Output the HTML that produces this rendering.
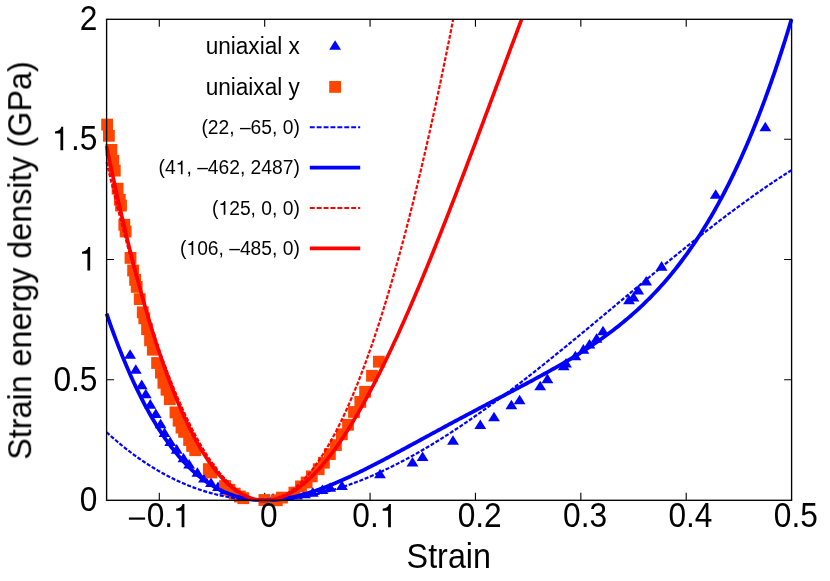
<!DOCTYPE html>
<html><head><meta charset="utf-8"><title>Strain energy density</title>
<style>html,body{margin:0;padding:0;background:#fff}body{width:830px;height:581px;overflow:hidden;font-family:"Liberation Sans",sans-serif}svg{display:block}</style>
</head><body>
<svg width="830" height="581" viewBox="0 0 830 581">
<rect width="830" height="581" fill="#fff"/>
<path d="M159.29 500.30V492.80M159.29 19.30V26.80M264.68 500.30V492.80M264.68 19.30V26.80M370.06 500.30V492.80M370.06 19.30V26.80M475.45 500.30V492.80M475.45 19.30V26.80M580.83 500.30V492.80M580.83 19.30V26.80M686.22 500.30V492.80M686.22 19.30V26.80M106.60 379.75H114.10M791.60 379.75H784.10M106.60 259.50H114.10M791.60 259.50H784.10M106.60 139.25H114.10M791.60 139.25H784.10" stroke="#000" stroke-width="1.1" fill="none"/>
<g fill="#0000ff"><path d="M130.10 349.20L124.20 358.75L136.00 358.75Z"/><path d="M135.80 364.20L129.90 373.75L141.70 373.75Z"/><path d="M141.70 379.60L135.80 389.15L147.60 389.15Z"/><path d="M145.80 388.70L139.90 398.25L151.70 398.25Z"/><path d="M150.30 399.10L144.40 408.65L156.20 408.65Z"/><path d="M155.80 408.50L149.90 418.05L161.70 418.05Z"/><path d="M160.60 418.80L154.70 428.35L166.50 428.35Z"/><path d="M164.50 427.50L158.60 437.05L170.40 437.05Z"/><path d="M170.20 436.40L164.30 445.95L176.10 445.95Z"/><path d="M176.70 444.10L170.80 453.65L182.60 453.65Z"/><path d="M183.50 452.80L177.60 462.35L189.40 462.35Z"/><path d="M189.10 459.00L183.20 468.55L195.00 468.55Z"/><path d="M197.40 467.30L191.50 476.85L203.30 476.85Z"/><path d="M204.00 472.90L198.10 482.45L209.90 482.45Z"/><path d="M211.00 477.40L205.10 486.95L216.90 486.95Z"/><path d="M218.00 481.40L212.10 490.95L223.90 490.95Z"/><path d="M225.00 484.90L219.10 494.45L230.90 494.45Z"/><path d="M232.00 487.40L226.10 496.95L237.90 496.95Z"/><path d="M240.00 489.90L234.10 499.45L245.90 499.45Z"/><path d="M264.70 493.40L258.80 502.95L270.60 502.95Z"/><path d="M273.00 492.90L267.10 502.45L278.90 502.45Z"/><path d="M281.00 492.20L275.10 501.75L286.90 501.75Z"/><path d="M289.00 491.20L283.10 500.75L294.90 500.75Z"/><path d="M297.00 489.90L291.10 499.45L302.90 499.45Z"/><path d="M305.00 488.60L299.10 498.15L310.90 498.15Z"/><path d="M312.80 487.10L306.90 496.65L318.70 496.65Z"/><path d="M322.40 484.40L316.50 493.95L328.30 493.95Z"/><path d="M330.20 482.30L324.30 491.85L336.10 491.85Z"/><path d="M342.00 480.40L336.10 489.95L347.90 489.95Z"/><path d="M380.00 468.80L374.10 478.35L385.90 478.35Z"/><path d="M412.50 456.90L406.60 466.45L418.40 466.45Z"/><path d="M422.60 451.50L416.70 461.05L428.50 461.05Z"/><path d="M453.00 435.30L447.10 444.85L458.90 444.85Z"/><path d="M480.30 419.40L474.40 428.95L486.20 428.95Z"/><path d="M494.00 411.80L488.10 421.35L499.90 421.35Z"/><path d="M511.40 399.70L505.50 409.25L517.30 409.25Z"/><path d="M519.60 394.80L513.70 404.35L525.50 404.35Z"/><path d="M540.20 380.80L534.30 390.35L546.10 390.35Z"/><path d="M547.40 373.60L541.50 383.15L553.30 383.15Z"/><path d="M563.70 360.60L557.80 370.15L569.60 370.15Z"/><path d="M566.00 358.00L560.10 367.55L571.90 367.55Z"/><path d="M575.40 350.80L569.50 360.35L581.30 360.35Z"/><path d="M583.40 344.10L577.50 353.65L589.30 353.65Z"/><path d="M589.50 338.90L583.60 348.45L595.40 348.45Z"/><path d="M596.60 333.20L590.70 342.75L602.50 342.75Z"/><path d="M603.00 325.70L597.10 335.25L608.90 335.25Z"/><path d="M629.00 294.80L623.10 304.35L634.90 304.35Z"/><path d="M633.50 292.00L627.60 301.55L639.40 301.55Z"/><path d="M638.20 285.00L632.30 294.55L644.10 294.55Z"/><path d="M646.20 275.90L640.30 285.45L652.10 285.45Z"/><path d="M661.60 261.10L655.70 270.65L667.50 270.65Z"/><path d="M715.70 189.30L709.80 198.85L721.60 198.85Z"/><path d="M765.30 121.80L759.40 131.35L771.20 131.35Z"/></g>
<g fill="#ff4500"><rect x="101.20" y="118.70" width="11.8" height="11.8"/><rect x="103.00" y="129.90" width="11.8" height="11.8"/><rect x="105.50" y="144.00" width="11.8" height="11.8"/><rect x="107.40" y="154.90" width="11.8" height="11.8"/><rect x="108.90" y="164.70" width="11.8" height="11.8"/><rect x="111.70" y="182.80" width="11.8" height="11.8"/><rect x="113.90" y="193.90" width="11.8" height="11.8"/><rect x="115.10" y="199.70" width="11.8" height="11.8"/><rect x="118.40" y="218.90" width="11.8" height="11.8"/><rect x="119.70" y="225.60" width="11.8" height="11.8"/><rect x="124.60" y="252.00" width="11.8" height="11.8"/><rect x="127.20" y="264.60" width="11.8" height="11.8"/><rect x="129.20" y="273.90" width="11.8" height="11.8"/><rect x="130.80" y="281.00" width="11.8" height="11.8"/><rect x="133.85" y="293.25" width="11.8" height="11.8"/><rect x="136.85" y="306.40" width="11.8" height="11.8"/><rect x="138.40" y="312.40" width="11.8" height="11.8"/><rect x="141.15" y="323.20" width="11.8" height="11.8"/><rect x="144.15" y="334.40" width="11.8" height="11.8"/><rect x="146.90" y="343.80" width="11.8" height="11.8"/><rect x="151.20" y="357.10" width="11.8" height="11.8"/><rect x="155.00" y="366.70" width="11.8" height="11.8"/><rect x="157.50" y="376.90" width="11.8" height="11.8"/><rect x="160.60" y="383.80" width="11.8" height="11.8"/><rect x="163.90" y="393.30" width="11.8" height="11.8"/><rect x="169.60" y="406.50" width="11.8" height="11.8"/><rect x="172.70" y="414.80" width="11.8" height="11.8"/><rect x="175.60" y="421.70" width="11.8" height="11.8"/><rect x="178.20" y="426.00" width="11.8" height="11.8"/><rect x="183.20" y="434.10" width="11.8" height="11.8"/><rect x="186.20" y="440.00" width="11.8" height="11.8"/><rect x="189.30" y="444.30" width="11.8" height="11.8"/><rect x="202.90" y="463.20" width="11.8" height="11.8"/><rect x="205.50" y="466.60" width="11.8" height="11.8"/><rect x="219.10" y="480.10" width="11.8" height="11.8"/><rect x="223.60" y="483.90" width="11.8" height="11.8"/><rect x="228.80" y="487.70" width="11.8" height="11.8"/><rect x="234.00" y="490.60" width="11.8" height="11.8"/><rect x="237.40" y="492.30" width="11.8" height="11.8"/><rect x="258.50" y="494.10" width="11.8" height="11.8"/><rect x="270.90" y="494.40" width="11.8" height="11.8"/><rect x="276.10" y="491.70" width="11.8" height="11.8"/><rect x="288.50" y="486.70" width="11.8" height="11.8"/><rect x="295.10" y="480.50" width="11.8" height="11.8"/><rect x="300.70" y="476.60" width="11.8" height="11.8"/><rect x="305.90" y="470.50" width="11.8" height="11.8"/><rect x="312.80" y="463.30" width="11.8" height="11.8"/><rect x="318.00" y="456.80" width="11.8" height="11.8"/><rect x="324.00" y="448.20" width="11.8" height="11.8"/><rect x="330.00" y="439.20" width="11.8" height="11.8"/><rect x="336.00" y="428.40" width="11.8" height="11.8"/><rect x="342.10" y="418.90" width="11.8" height="11.8"/><rect x="348.10" y="406.10" width="11.8" height="11.8"/><rect x="354.40" y="396.00" width="11.8" height="11.8"/><rect x="359.20" y="385.90" width="11.8" height="11.8"/><rect x="366.10" y="369.90" width="11.8" height="11.8"/><rect x="373.00" y="355.80" width="11.8" height="11.8"/></g>
<path d="M106.60 432.19L108.31 433.75L110.02 435.29L111.74 436.81L113.45 438.31L115.16 439.79L116.88 441.26L118.59 442.70L120.30 444.12L122.01 445.52L123.73 446.91L125.44 448.27L127.15 449.62L128.86 450.94L130.57 452.25L132.29 453.53L134.00 454.80L135.71 456.05L137.42 457.28L139.14 458.49L140.85 459.68L142.56 460.86L144.28 462.01L145.99 463.15L147.70 464.26L149.41 465.36L151.12 466.44L152.84 467.50L154.55 468.55L156.26 469.57L157.97 470.58L159.69 471.57L161.40 472.54L163.11 473.49L164.82 474.42L166.54 475.34L168.25 476.24L169.96 477.12L171.68 477.99L173.39 478.83L175.10 479.66L176.81 480.47L178.53 481.27L180.24 482.04L181.95 482.80L183.66 483.54L185.38 484.27L187.09 484.98L188.80 485.67L190.51 486.34L192.22 487.00L193.94 487.64L195.65 488.26L197.36 488.87L199.07 489.46L200.79 490.04L202.50 490.59L204.21 491.14L205.92 491.66L207.64 492.17L209.35 492.66L211.06 493.14L212.77 493.60L214.49 494.04L216.20 494.47L217.91 494.88L219.62 495.28L221.34 495.66L223.05 496.03L224.76 496.38L226.47 496.71L228.19 497.03L229.90 497.34L231.61 497.63L233.32 497.90L235.04 498.16L236.75 498.40L238.46 498.63L240.18 498.84L241.89 499.04L243.60 499.23L245.31 499.39L247.03 499.55L248.74 499.69L250.45 499.81L252.16 499.92L253.87 500.02L255.59 500.10L257.30 500.17L259.01 500.22L260.72 500.26L262.44 500.29L264.15 500.30L265.86 500.30L267.57 500.28L269.29 500.25L271.00 500.21L272.71 500.15L274.42 500.08L276.14 499.99L277.85 499.89L279.56 499.78L281.27 499.66L282.99 499.52L284.70 499.37L286.41 499.20L288.12 499.03L289.84 498.83L291.55 498.63L293.26 498.41L294.97 498.19L296.69 497.94L298.40 497.69L300.11 497.42L301.83 497.14L303.54 496.85L305.25 496.55L306.96 496.23L308.67 495.90L310.39 495.56L312.10 495.21L313.81 494.84L315.52 494.46L317.24 494.07L318.95 493.67L320.66 493.26L322.38 492.84L324.09 492.40L325.80 491.95L327.51 491.49L329.22 491.02L330.94 490.54L332.65 490.05L334.36 489.54L336.08 489.03L337.79 488.50L339.50 487.96L341.21 487.42L342.92 486.86L344.64 486.29L346.35 485.70L348.06 485.11L349.77 484.51L351.49 483.90L353.20 483.27L354.91 482.64L356.62 482.00L358.34 481.34L360.05 480.68L361.76 480.00L363.48 479.32L365.19 478.62L366.90 477.92L368.61 477.20L370.33 476.48L372.04 475.74L373.75 475.00L375.46 474.25L377.17 473.48L378.89 472.71L380.60 471.93L382.31 471.14L384.02 470.34L385.74 469.53L387.45 468.71L389.16 467.88L390.88 467.04L392.59 466.20L394.30 465.34L396.01 464.48L397.73 463.61L399.44 462.73L401.15 461.84L402.86 460.94L404.58 460.03L406.29 459.12L408.00 458.20L409.71 457.26L411.42 456.32L413.14 455.38L414.85 454.42L416.56 453.46L418.27 452.49L419.99 451.51L421.70 450.52L423.41 449.52L425.12 448.52L426.84 447.51L428.55 446.49L430.26 445.47L431.98 444.44L433.69 443.40L435.40 442.35L437.11 441.30L438.83 440.23L440.54 439.17L442.25 438.09L443.96 437.01L445.68 435.92L447.39 434.82L449.10 433.72L450.81 432.61L452.52 431.50L454.24 430.37L455.95 429.25L457.66 428.11L459.38 426.97L461.09 425.82L462.80 424.67L464.51 423.51L466.23 422.34L467.94 421.17L469.65 419.99L471.36 418.81L473.08 417.62L474.79 416.43L476.50 415.23L478.21 414.02L479.93 412.81L481.64 411.59L483.35 410.37L485.06 409.14L486.77 407.91L488.49 406.67L490.20 405.43L491.91 404.18L493.62 402.93L495.34 401.67L497.05 400.41L498.76 399.14L500.48 397.87L502.19 396.59L503.90 395.31L505.61 394.02L507.32 392.73L509.04 391.44L510.75 390.14L512.46 388.84L514.18 387.53L515.89 386.22L517.60 384.91L519.31 383.59L521.03 382.26L522.74 380.94L524.45 379.61L526.16 378.27L527.88 376.94L529.59 375.60L531.30 374.25L533.01 372.90L534.73 371.55L536.44 370.20L538.15 368.84L539.86 367.48L541.58 366.12L543.29 364.75L545.00 363.38L546.71 362.01L548.43 360.63L550.14 359.25L551.85 357.87L553.56 356.49L555.28 355.10L556.99 353.72L558.70 352.33L560.41 350.93L562.12 349.54L563.84 348.14L565.55 346.74L567.26 345.34L568.97 343.94L570.69 342.53L572.40 341.13L574.11 339.72L575.83 338.31L577.54 336.89L579.25 335.48L580.96 334.07L582.68 332.65L584.39 331.23L586.10 329.81L587.81 328.39L589.53 326.97L591.24 325.55L592.95 324.12L594.66 322.70L596.38 321.27L598.09 319.85L599.80 318.42L601.51 316.99L603.23 315.56L604.94 314.14L606.65 312.71L608.36 311.28L610.07 309.85L611.79 308.42L613.50 306.99L615.21 305.55L616.93 304.12L618.64 302.69L620.35 301.26L622.06 299.83L623.77 298.40L625.49 296.97L627.20 295.54L628.91 294.11L630.63 292.68L632.34 291.25L634.05 289.83L635.76 288.40L637.48 286.97L639.19 285.55L640.90 284.12L642.61 282.70L644.32 281.28L646.04 279.85L647.75 278.43L649.46 277.01L651.18 275.60L652.89 274.18L654.60 272.76L656.31 271.35L658.02 269.94L659.74 268.53L661.45 267.12L663.16 265.71L664.88 264.31L666.59 262.90L668.30 261.50L670.01 260.10L671.73 258.70L673.44 257.31L675.15 255.92L676.86 254.53L678.57 253.14L680.29 251.75L682.00 250.37L683.71 248.99L685.42 247.61L687.14 246.23L688.85 244.86L690.56 243.49L692.28 242.12L693.99 240.76L695.70 239.40L697.41 238.04L699.12 236.69L700.84 235.33L702.55 233.99L704.26 232.64L705.97 231.30L707.69 229.96L709.40 228.63L711.11 227.30L712.83 225.97L714.54 224.65L716.25 223.33L717.96 222.01L719.67 220.70L721.39 219.39L723.10 218.09L724.81 216.79L726.53 215.50L728.24 214.21L729.95 212.92L731.66 211.64L733.38 210.36L735.09 209.09L736.80 207.82L738.51 206.56L740.23 205.30L741.94 204.05L743.65 202.80L745.36 201.55L747.07 200.31L748.79 199.08L750.50 197.85L752.21 196.63L753.93 195.41L755.64 194.20L757.35 192.99L759.06 191.79L760.77 190.60L762.49 189.41L764.20 188.22L765.91 187.04L767.62 185.87L769.34 184.71L771.05 183.55L772.76 182.39L774.48 181.24L776.19 180.10L777.90 178.97L779.61 177.84L781.33 176.71L783.04 175.60L784.75 174.49L786.46 173.38L788.17 172.29L789.89 171.20L791.60 170.11" stroke="#0000ff" stroke-width="2.2" fill="none" stroke-dasharray="4 1.7"/>
<path d="M106.60 313.71L108.31 318.66L110.02 323.52L111.74 328.30L113.45 332.99L115.16 337.60L116.88 342.12L118.59 346.56L120.30 350.92L122.01 355.19L123.73 359.39L125.44 363.50L127.15 367.54L128.86 371.50L130.57 375.39L132.29 379.19L134.00 382.92L135.71 386.58L137.42 390.16L139.14 393.67L140.85 397.11L142.56 400.47L144.28 403.77L145.99 406.99L147.70 410.15L149.41 413.24L151.12 416.25L152.84 419.21L154.55 422.09L156.26 424.91L157.97 427.67L159.69 430.36L161.40 432.99L163.11 435.56L164.82 438.06L166.54 440.51L168.25 442.89L169.96 445.21L171.68 447.48L173.39 449.68L175.10 451.83L176.81 453.92L178.53 455.96L180.24 457.94L181.95 459.87L183.66 461.74L185.38 463.56L187.09 465.32L188.80 467.04L190.51 468.70L192.22 470.31L193.94 471.87L195.65 473.38L197.36 474.85L199.07 476.26L200.79 477.63L202.50 478.95L204.21 480.22L205.92 481.45L207.64 482.64L209.35 483.78L211.06 484.87L212.77 485.92L214.49 486.93L216.20 487.90L217.91 488.83L219.62 489.72L221.34 490.56L223.05 491.37L224.76 492.14L226.47 492.86L228.19 493.56L229.90 494.21L231.61 494.83L233.32 495.41L235.04 495.95L236.75 496.46L238.46 496.94L240.18 497.38L241.89 497.79L243.60 498.17L245.31 498.51L247.03 498.82L248.74 499.10L250.45 499.35L252.16 499.57L253.87 499.76L255.59 499.92L257.30 500.05L259.01 500.15L260.72 500.23L262.44 500.28L264.15 500.30L265.86 500.29L267.57 500.26L269.29 500.21L271.00 500.13L272.71 500.02L274.42 499.89L276.14 499.74L277.85 499.56L279.56 499.36L281.27 499.14L282.99 498.90L284.70 498.64L286.41 498.35L288.12 498.05L289.84 497.72L291.55 497.37L293.26 497.01L294.97 496.63L296.69 496.23L298.40 495.81L300.11 495.37L301.83 494.92L303.54 494.45L305.25 493.96L306.96 493.46L308.67 492.94L310.39 492.40L312.10 491.85L313.81 491.29L315.52 490.71L317.24 490.12L318.95 489.51L320.66 488.90L322.38 488.26L324.09 487.62L325.80 486.96L327.51 486.30L329.22 485.62L330.94 484.93L332.65 484.23L334.36 483.52L336.08 482.79L337.79 482.06L339.50 481.32L341.21 480.57L342.92 479.81L344.64 479.04L346.35 478.26L348.06 477.48L349.77 476.69L351.49 475.89L353.20 475.08L354.91 474.26L356.62 473.44L358.34 472.61L360.05 471.78L361.76 470.94L363.48 470.09L365.19 469.24L366.90 468.38L368.61 467.52L370.33 466.65L372.04 465.78L373.75 464.90L375.46 464.02L377.17 463.13L378.89 462.24L380.60 461.35L382.31 460.46L384.02 459.56L385.74 458.65L387.45 457.75L389.16 456.84L390.88 455.93L392.59 455.02L394.30 454.10L396.01 453.19L397.73 452.27L399.44 451.35L401.15 450.42L402.86 449.50L404.58 448.58L406.29 447.65L408.00 446.72L409.71 445.79L411.42 444.87L413.14 443.94L414.85 443.01L416.56 442.08L418.27 441.15L419.99 440.21L421.70 439.28L423.41 438.35L425.12 437.42L426.84 436.49L428.55 435.56L430.26 434.63L431.98 433.70L433.69 432.77L435.40 431.85L437.11 430.92L438.83 429.99L440.54 429.07L442.25 428.14L443.96 427.22L445.68 426.29L447.39 425.37L449.10 424.45L450.81 423.53L452.52 422.61L454.24 421.69L455.95 420.77L457.66 419.86L459.38 418.94L461.09 418.03L462.80 417.11L464.51 416.20L466.23 415.29L467.94 414.38L469.65 413.47L471.36 412.56L473.08 411.66L474.79 410.75L476.50 409.84L478.21 408.94L479.93 408.04L481.64 407.13L483.35 406.23L485.06 405.33L486.77 404.43L488.49 403.53L490.20 402.63L491.91 401.73L493.62 400.84L495.34 399.94L497.05 399.04L498.76 398.14L500.48 397.24L502.19 396.35L503.90 395.45L505.61 394.55L507.32 393.65L509.04 392.75L510.75 391.85L512.46 390.95L514.18 390.05L515.89 389.15L517.60 388.25L519.31 387.34L521.03 386.44L522.74 385.53L524.45 384.62L526.16 383.71L527.88 382.80L529.59 381.88L531.30 380.97L533.01 380.05L534.73 379.12L536.44 378.20L538.15 377.27L539.86 376.34L541.58 375.40L543.29 374.47L545.00 373.52L546.71 372.58L548.43 371.63L550.14 370.67L551.85 369.71L553.56 368.75L555.28 367.78L556.99 366.80L558.70 365.82L560.41 364.84L562.12 363.85L563.84 362.85L565.55 361.84L567.26 360.83L568.97 359.81L570.69 358.79L572.40 357.75L574.11 356.71L575.83 355.66L577.54 354.60L579.25 353.54L580.96 352.46L582.68 351.38L584.39 350.28L586.10 349.18L587.81 348.07L589.53 346.94L591.24 345.81L592.95 344.66L594.66 343.50L596.38 342.33L598.09 341.15L599.80 339.96L601.51 338.75L603.23 337.53L604.94 336.30L606.65 335.05L608.36 333.79L610.07 332.51L611.79 331.22L613.50 329.92L615.21 328.60L616.93 327.26L618.64 325.91L620.35 324.54L622.06 323.15L623.77 321.74L625.49 320.32L627.20 318.88L628.91 317.42L630.63 315.94L632.34 314.44L634.05 312.93L635.76 311.39L637.48 309.83L639.19 308.25L640.90 306.65L642.61 305.02L644.32 303.38L646.04 301.71L647.75 300.01L649.46 298.30L651.18 296.56L652.89 294.79L654.60 293.00L656.31 291.18L658.02 289.34L659.74 287.47L661.45 285.57L663.16 283.65L664.88 281.70L666.59 279.71L668.30 277.70L670.01 275.66L671.73 273.59L673.44 271.49L675.15 269.36L676.86 267.20L678.57 265.00L680.29 262.77L682.00 260.51L683.71 258.21L685.42 255.88L687.14 253.52L688.85 251.12L690.56 248.68L692.28 246.21L693.99 243.70L695.70 241.15L697.41 238.57L699.12 235.94L700.84 233.28L702.55 230.57L704.26 227.83L705.97 225.04L707.69 222.21L709.40 219.34L711.11 216.43L712.83 213.47L714.54 210.47L716.25 207.43L717.96 204.33L719.67 201.20L721.39 198.01L723.10 194.78L724.81 191.50L726.53 188.17L728.24 184.80L729.95 181.37L731.66 177.89L733.38 174.36L735.09 170.78L736.80 167.15L738.51 163.46L740.23 159.72L741.94 155.93L743.65 152.07L745.36 148.17L747.07 144.21L748.79 140.19L750.50 136.11L752.21 131.97L753.93 127.77L755.64 123.52L757.35 119.20L759.06 114.82L760.77 110.38L762.49 105.87L764.20 101.31L765.91 96.67L767.62 91.98L769.34 87.21L771.05 82.38L772.76 77.48L774.48 72.52L776.19 67.48L777.90 62.37L779.61 57.20L781.33 51.95L783.04 46.63L784.75 41.24L786.46 35.77L788.17 30.23L789.89 24.62L791.49 19.30" stroke="#0000ff" stroke-width="3.8" fill="none"/>
<path d="M106.60 162.10L108.31 169.38L110.02 176.59L111.74 183.72L113.45 190.77L115.16 197.74L116.88 204.63L118.59 211.45L120.30 218.18L122.01 224.83L123.73 231.41L125.44 237.90L127.15 244.31L128.86 250.65L130.57 256.91L132.29 263.08L134.00 269.18L135.71 275.20L137.42 281.14L139.14 287.00L140.85 292.77L142.56 298.48L144.28 304.10L145.99 309.64L147.70 315.10L149.41 320.48L151.12 325.79L152.84 331.01L154.55 336.15L156.26 341.22L157.97 346.21L159.69 351.11L161.40 355.94L163.11 360.69L164.82 365.36L166.54 369.95L168.25 374.45L169.96 378.88L171.68 383.24L173.39 387.51L175.10 391.70L176.81 395.81L178.53 399.85L180.24 403.80L181.95 407.67L183.66 411.47L185.38 415.18L187.09 418.82L188.80 422.38L190.51 425.86L192.22 429.25L193.94 432.57L195.65 435.81L197.36 438.97L199.07 442.05L200.79 445.05L202.50 447.98L204.21 450.82L205.92 453.58L207.64 456.27L209.35 458.87L211.06 461.40L212.77 463.84L214.49 466.21L216.20 468.49L217.91 470.70L219.62 472.83L221.34 474.88L223.05 476.85L224.76 478.74L226.47 480.55L228.19 482.28L229.90 483.93L231.61 485.50L233.32 487.00L235.04 488.41L236.75 489.74L238.46 491.00L240.18 492.17L241.89 493.27L243.60 494.29L245.31 495.22L247.03 496.08L248.74 496.86L250.45 497.56L252.16 498.18L253.87 498.72L255.59 499.18L257.30 499.56L259.01 499.87L260.72 500.09L262.44 500.23L264.15 500.30L265.86 500.28L267.57 500.19L269.29 500.01L271.00 499.76L272.71 499.43L274.42 499.01L276.14 498.52L277.85 497.95L279.56 497.30L281.27 496.57L282.99 495.76L284.70 494.87L286.41 493.91L288.12 492.86L289.84 491.73L291.55 490.53L293.26 489.24L294.97 487.88L296.69 486.43L298.40 484.91L300.11 483.31L301.83 481.62L303.54 479.86L305.25 478.02L306.96 476.10L308.67 474.10L310.39 472.02L312.10 469.86L313.81 467.62L315.52 465.31L317.24 462.91L318.95 460.43L320.66 457.88L322.38 455.24L324.09 452.53L325.80 449.73L327.51 446.86L329.22 443.91L330.94 440.88L332.65 437.77L334.36 434.58L336.08 431.31L337.79 427.96L339.50 424.53L341.21 421.02L342.92 417.43L344.64 413.76L346.35 410.02L348.06 406.19L349.77 402.29L351.49 398.30L353.20 394.24L354.91 390.10L356.62 385.87L358.34 381.57L360.05 377.19L361.76 372.73L363.48 368.19L365.19 363.57L366.90 358.87L368.61 354.09L370.33 349.23L372.04 344.30L373.75 339.28L375.46 334.19L377.17 329.01L378.89 323.76L380.60 318.42L382.31 313.01L384.02 307.52L385.74 301.94L387.45 296.29L389.16 290.56L390.88 284.75L392.59 278.86L394.30 272.89L396.01 266.84L397.73 260.72L399.44 254.51L401.15 248.22L402.86 241.86L404.58 235.41L406.29 228.89L408.00 222.28L409.71 215.60L411.42 208.84L413.14 201.99L414.85 195.07L416.56 188.07L418.27 180.99L419.99 173.83L421.70 166.59L423.41 159.27L425.12 151.87L426.84 144.40L428.55 136.84L430.26 129.20L431.98 121.49L433.69 113.69L435.40 105.82L437.11 97.87L438.83 89.83L440.54 81.72L442.25 73.53L443.96 65.26L445.68 56.91L447.39 48.48L449.10 39.97L450.81 31.38L452.52 22.71L453.19 19.30" stroke="#ff0000" stroke-width="2.2" fill="none" stroke-dasharray="4 1.7"/>
<path d="M106.60 146.00L108.31 154.33L110.02 162.55L111.74 170.65L113.45 178.64L115.16 186.52L116.88 194.29L118.59 201.95L120.30 209.49L122.01 216.93L123.73 224.26L125.44 231.48L127.15 238.59L128.86 245.59L130.57 252.48L132.29 259.27L134.00 265.95L135.71 272.53L137.42 278.99L139.14 285.36L140.85 291.62L142.56 297.78L144.28 303.83L145.99 309.78L147.70 315.63L149.41 321.37L151.12 327.02L152.84 332.56L154.55 338.00L156.26 343.34L157.97 348.59L159.69 353.73L161.40 358.78L163.11 363.72L164.82 368.58L166.54 373.33L168.25 377.99L169.96 382.55L171.68 387.01L173.39 391.38L175.10 395.66L176.81 399.84L178.53 403.93L180.24 407.93L181.95 411.83L183.66 415.64L185.38 419.36L187.09 422.99L188.80 426.53L190.51 429.98L192.22 433.34L193.94 436.61L195.65 439.79L197.36 442.88L199.07 445.89L200.79 448.81L202.50 451.64L204.21 454.39L205.92 457.05L207.64 459.63L209.35 462.12L211.06 464.53L212.77 466.86L214.49 469.10L216.20 471.26L217.91 473.34L219.62 475.33L221.34 477.25L223.05 479.08L224.76 480.84L226.47 482.51L228.19 484.11L229.90 485.63L231.61 487.07L233.32 488.43L235.04 489.72L236.75 490.93L238.46 492.06L240.18 493.12L241.89 494.10L243.60 495.01L245.31 495.85L247.03 496.61L248.74 497.30L250.45 497.91L252.16 498.46L253.87 498.93L255.59 499.33L257.30 499.66L259.01 499.93L260.72 500.12L262.44 500.24L264.15 500.30L265.86 500.28L267.57 500.20L269.29 500.06L271.00 499.84L272.71 499.56L274.42 499.22L276.14 498.81L277.85 498.33L279.56 497.79L281.27 497.19L282.99 496.53L284.70 495.80L286.41 495.01L288.12 494.16L289.84 493.25L291.55 492.28L293.26 491.25L294.97 490.16L296.69 489.01L298.40 487.80L300.11 486.53L301.83 485.21L303.54 483.83L305.25 482.39L306.96 480.90L308.67 479.35L310.39 477.75L312.10 476.09L313.81 474.38L315.52 472.61L317.24 470.80L318.95 468.93L320.66 467.00L322.38 465.03L324.09 463.01L325.80 460.93L327.51 458.81L329.22 456.63L330.94 454.41L332.65 452.14L334.36 449.82L336.08 447.45L337.79 445.04L339.50 442.58L341.21 440.07L342.92 437.52L344.64 434.93L346.35 432.28L348.06 429.60L349.77 426.87L351.49 424.10L353.20 421.29L354.91 418.43L356.62 415.54L358.34 412.60L360.05 409.62L361.76 406.61L363.48 403.55L365.19 400.45L366.90 397.32L368.61 394.15L370.33 390.94L372.04 387.69L373.75 384.41L375.46 381.09L377.17 377.74L378.89 374.35L380.60 370.92L382.31 367.47L384.02 363.98L385.74 360.45L387.45 356.90L389.16 353.31L390.88 349.69L392.59 346.04L394.30 342.36L396.01 338.65L397.73 334.91L399.44 331.14L401.15 327.35L402.86 323.52L404.58 319.67L406.29 315.79L408.00 311.89L409.71 307.95L411.42 304.00L413.14 300.02L414.85 296.01L416.56 291.98L418.27 287.93L419.99 283.85L421.70 279.75L423.41 275.63L425.12 271.49L426.84 267.33L428.55 263.15L430.26 258.95L431.98 254.72L433.69 250.48L435.40 246.22L437.11 241.95L438.83 237.65L440.54 233.34L442.25 229.01L443.96 224.67L445.68 220.31L447.39 215.94L449.10 211.55L450.81 207.15L452.52 202.73L454.24 198.30L455.95 193.86L457.66 189.41L459.38 184.95L461.09 180.47L462.80 175.99L464.51 171.49L466.23 166.99L467.94 162.48L469.65 157.95L471.36 153.43L473.08 148.89L474.79 144.35L476.50 139.80L478.21 135.24L479.93 130.68L481.64 126.11L483.35 121.54L485.06 116.97L486.77 112.39L488.49 107.81L490.20 103.23L491.91 98.64L493.62 94.06L495.34 89.47L497.05 84.89L498.76 80.30L500.48 75.71L502.19 71.13L503.90 66.54L505.61 61.96L507.32 57.38L509.04 52.81L510.75 48.24L512.46 43.67L514.18 39.11L515.89 34.55L517.60 30.00L519.31 25.45L521.03 20.91L521.63 19.30" stroke="#ff0000" stroke-width="3.6" fill="none"/>
<rect x="106.60" y="19.30" width="685.00" height="481.00" fill="none" stroke="#000" stroke-width="1.35"/>
<g fill="#0000ff"><path d="M335.10 40.20L329.20 49.75L341.00 49.75Z"/></g>
<g fill="#ff4500"><rect x="329.20" y="81.00" width="11.8" height="11.8"/></g>
<path d="M309.8 127.3H360.2" stroke="#0000ff" stroke-width="2" stroke-dasharray="4.9 2"/>
<path d="M309.8 167.6H360.2" stroke="#0000ff" stroke-width="3.6"/>
<path d="M309.8 208.1H360.2" stroke="#ff0000" stroke-width="2" stroke-dasharray="4.9 2"/>
<path d="M309.8 248.4H360.2" stroke="#ff0000" stroke-width="3.6"/>
<g font-family="'Liberation Sans', sans-serif" fill="#000" style="opacity:0.999">
<text transform="translate(299.80 54.00) scale(1 1.050)" font-size="22.6" text-anchor="end">uniaxial x</text>
<text transform="translate(299.80 94.50) scale(1 1.050)" font-size="22.6" text-anchor="end">uniaixal y</text>
<text transform="translate(299.80 134.00) scale(1 1.050)" font-size="19.25" text-anchor="end">(22, –65, 0)</text>
<text transform="translate(299.80 174.30) scale(1 1.050)" font-size="19.25" text-anchor="end">, –462, 2487)</text>
<path transform="translate(175.66 174.30) scale(0.01925 0.01964)" d="M271 0L271 -505L101 -505L101 -568C180 -576 268 -600 300 -709L359 -709L359 0Z"/>
<text transform="translate(175.66 174.30) scale(1 1.050)" font-size="19.25" text-anchor="end">(4</text>
<text transform="translate(299.80 214.80) scale(1 1.050)" font-size="19.25" text-anchor="end">25, 0, 0)</text>
<path transform="translate(218.47 214.80) scale(0.01925 0.01964)" d="M271 0L271 -505L101 -505L101 -568C180 -576 268 -600 300 -709L359 -709L359 0Z"/>
<text transform="translate(218.47 214.80) scale(1 1.050)" font-size="19.25" text-anchor="end">(</text>
<text transform="translate(299.80 255.00) scale(1 1.050)" font-size="19.25" text-anchor="end">06, –485, 0)</text>
<path transform="translate(186.36 255.00) scale(0.01925 0.01964)" d="M271 0L271 -505L101 -505L101 -568C180 -576 268 -600 300 -709L359 -709L359 0Z"/>
<text transform="translate(186.36 255.00) scale(1 1.050)" font-size="19.25" text-anchor="end">(</text>
<rect x="128.9" y="517.5" width="16.2" height="2.2"/>
<text transform="translate(146.70 527.30) scale(1 1.080)" font-size="31.7" text-anchor="start">0.</text>
<path transform="translate(173.02 527.30) scale(0.03170 0.03300)" d="M271 0L271 -505L101 -505L101 -568C180 -576 268 -600 300 -709L359 -709L359 0Z"/>
<text transform="translate(259.98 527.30) scale(1 1.080)" font-size="31.7" text-anchor="start">0</text>
<text transform="translate(352.26 527.30) scale(1 1.080)" font-size="31.7" text-anchor="start">0.</text>
<path transform="translate(379.52 527.30) scale(0.03170 0.03300)" d="M271 0L271 -505L101 -505L101 -568C180 -576 268 -600 300 -709L359 -709L359 0Z"/>
<text transform="translate(457.65 527.30) scale(1 1.080)" font-size="31.7" text-anchor="start">0.2</text>
<text transform="translate(563.03 527.30) scale(1 1.080)" font-size="31.7" text-anchor="start">0.3</text>
<text transform="translate(668.42 527.30) scale(1 1.080)" font-size="31.7" text-anchor="start">0.4</text>
<text transform="translate(773.80 527.30) scale(1 1.080)" font-size="31.7" text-anchor="start">0.5</text>
<path transform="translate(78.82 270.40) scale(0.03170 0.03300)" d="M271 0L271 -505L101 -505L101 -568C180 -576 268 -600 300 -709L359 -709L359 0Z"/>
<path transform="translate(51.82 150.15) scale(0.03170 0.03300)" d="M271 0L271 -505L101 -505L101 -568C180 -576 268 -600 300 -709L359 -709L359 0Z"/>
<text transform="translate(97.50 510.90) scale(1 1.080)" font-size="31.7" text-anchor="end">0</text>
<text transform="translate(97.50 390.65) scale(1 1.080)" font-size="31.7" text-anchor="end">0.5</text>
<text transform="translate(97.50 150.15) scale(1 1.080)" font-size="31.7" text-anchor="end">.5</text>
<text transform="translate(97.50 29.90) scale(1 1.080)" font-size="31.7" text-anchor="end">2</text>
<text transform="translate(448.80 567.70) scale(1 1.080)" font-size="32.3" text-anchor="middle">Strain</text>
<text transform="translate(31.7 260.5) rotate(-90) scale(1 1.050)" font-size="32.3" text-anchor="middle">Strain energy density (GPa)</text>
</g>
</svg>
</body></html>
